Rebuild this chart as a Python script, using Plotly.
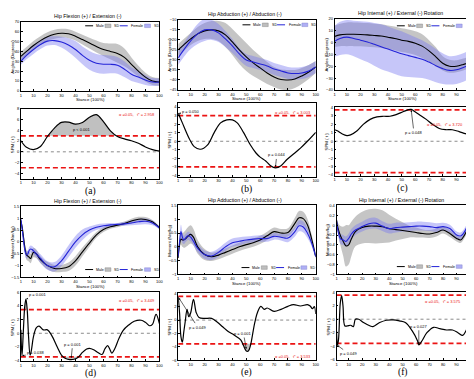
import numpy as np
import plotly.graph_objects as go

W, H = 474, 379

# ------------------------------------------------------------------ data
stance = [1, 5, 10, 15, 20, 25, 30, 35, 40, 45, 50, 55, 60, 65, 70, 75, 80, 85, 90, 95, 100]

# (a) hip flexion/extension angle
a_male = [35, 40, 46, 51, 55, 57.5, 58.5, 58, 55.5, 52, 48.5, 45, 42, 40, 38, 34, 27, 20, 14, 10, 9]
a_male_sd = [5, 4.5, 4.5, 4.5, 4.5, 4.5, 4.5, 4.5, 4.5, 5, 5.5, 6, 6.5, 8, 9.5, 9, 7, 5.5, 4.5, 4, 4]
a_fem = [30, 36, 42, 47, 50.5, 51, 49.5, 46.5, 42, 36, 31, 28, 27, 27, 26, 22, 17, 14, 11, 9, 9]
a_fem_sd = [3.5, 4, 4.5, 4.5, 4.5, 4.5, 5.5, 7, 8.5, 9, 9.5, 9.5, 9.5, 9, 8.5, 8, 7, 6, 5, 4, 3.5]

# (b) hip abduction angle
b_male = [-25, -22.5, -19.5, -17, -15.5, -15, -15.5, -17.5, -21, -25, -28.5, -31.5, -34, -36.5, -38.5, -39.8, -40, -39.5, -38, -36, -33.5]
b_male_sd = [3, 3, 3, 3.5, 4, 4.5, 5, 6, 6.5, 7, 7, 6.5, 6, 5.5, 5, 5, 5, 4.5, 4, 3.5, 3]
b_fem = [-29, -25, -20.5, -17, -15, -15, -16.5, -19.5, -23, -27, -30, -31, -32, -33, -34.5, -35.5, -36.5, -36.8, -36.5, -35.5, -33.5]
b_fem_sd = [3.5, 3.5, 4, 5, 5.5, 5, 4.5, 4, 3.5, 3, 3, 3, 3, 3, 3, 3, 3, 3, 3, 3, 3]

# (c) hip rotation angle
c_male = [5.2, 6.5, 7, 7, 6.8, 6.5, 6, 5.5, 4.5, 3.5, 2, 1, -0.5, -3, -7, -12, -17.5, -20, -20, -18.5, -16.5]
c_male_sd = [9, 9.5, 10, 10, 10, 10, 10, 10, 10, 10, 10, 10, 10, 10, 9, 8, 6, 5.5, 5, 5, 5]
c_fem = [1, 3.5, 4.6, 3.5, 2, 0.5, -1.5, -3.5, -5.5, -7.5, -9.5, -11, -12.5, -14, -16.5, -19.5, -22, -23.5, -23, -21, -18.5]
c_fem_sd = [13, 14, 14.5, 15, 16, 17, 18, 19, 19, 19, 19, 18, 17, 16, 15, 14, 13, 12, 12, 12, 12]

# (d) hip flexion/extension moment
d_x = [1, 2, 3, 4, 5, 6, 7, 8, 9, 10, 12, 15, 20, 25, 30, 35, 40, 45, 50, 55, 60, 65, 70, 75, 80, 85, 90, 95, 100]
d_male = [0.9, 0.6, 0.15, -0.3, -0.55, -0.6, -0.65, -0.7, -0.55, -0.45, -0.5, -0.75, -1.0, -1.12, -1.12, -1.05, -0.8, -0.42, -0.05, 0.3, 0.52, 0.64, 0.7, 0.78, 0.88, 0.96, 0.95, 0.85, 0.6]
d_male_sd = [0.08, 0.1, 0.15, 0.18, 0.2, 0.2, 0.2, 0.2, 0.2, 0.2, 0.18, 0.15, 0.15, 0.15, 0.15, 0.18, 0.2, 0.18, 0.15, 0.12, 0.1, 0.08, 0.08, 0.08, 0.1, 0.1, 0.1, 0.08, 0.06]
d_fem = [0.95, 0.5, 0.0, -0.4, -0.55, -0.5, -0.35, -0.3, -0.32, -0.38, -0.5, -0.7, -1.0, -1.05, -0.8, -0.4, 0.0, 0.3, 0.5, 0.62, 0.68, 0.72, 0.74, 0.76, 0.8, 0.85, 0.87, 0.8, 0.6]
d_fem_sd = [0.08, 0.1, 0.15, 0.18, 0.15, 0.15, 0.15, 0.15, 0.15, 0.15, 0.15, 0.18, 0.18, 0.2, 0.22, 0.25, 0.25, 0.22, 0.15, 0.12, 0.1, 0.08, 0.06, 0.08, 0.1, 0.12, 0.12, 0.1, 0.06]

# (e) hip adduction/abduction moment
e_x = [1, 2, 3, 4, 5, 6, 8, 10, 12, 15, 20, 25, 30, 35, 40, 45, 50, 55, 60, 65, 70, 75, 80, 85, 88, 91, 94, 97, 100]
e_male = [-0.4, 0.1, 0.28, 0.25, 0.25, 0.28, 0.38, 0.45, 0.35, 0.0, -0.28, -0.36, -0.3, -0.2, -0.1, 0.0, 0.08, 0.15, 0.25, 0.4, 0.55, 0.5, 0.52, 0.85, 1.05, 1.02, 0.8, 0.3, -0.35]
e_male_sd = [0.08, 0.15, 0.2, 0.25, 0.28, 0.3, 0.33, 0.33, 0.3, 0.25, 0.2, 0.15, 0.15, 0.15, 0.15, 0.15, 0.15, 0.15, 0.15, 0.15, 0.15, 0.15, 0.15, 0.2, 0.25, 0.25, 0.22, 0.15, 0.08]
e_fem = [-0.35, 0.2, 0.55, 0.35, 0.25, 0.3, 0.4, 0.35, 0.2, -0.05, -0.28, -0.33, -0.2, 0.0, 0.15, 0.2, 0.25, 0.28, 0.3, 0.3, 0.38, 0.35, 0.32, 0.55, 0.76, 0.72, 0.5, 0.15, -0.35]
e_fem_sd = [0.08, 0.15, 0.25, 0.2, 0.15, 0.15, 0.15, 0.15, 0.15, 0.15, 0.15, 0.15, 0.15, 0.15, 0.15, 0.15, 0.12, 0.12, 0.12, 0.12, 0.12, 0.12, 0.15, 0.18, 0.2, 0.2, 0.18, 0.12, 0.08]

# (f) hip rotation moment
f_x = [1, 2, 4, 6, 8, 10, 12, 15, 20, 25, 30, 35, 40, 45, 50, 55, 60, 65, 70, 75, 80, 85, 90, 93, 95, 98, 100]
f_male = [0.1, -0.05, -0.22, -0.33, -0.42, -0.4, -0.28, -0.13, -0.05, -0.02, -0.02, -0.03, -0.07, -0.09, -0.11, -0.13, -0.15, -0.17, -0.18, -0.15, -0.1, -0.17, -0.27, -0.3, -0.24, -0.08, 0.1]
f_male_sd = [0.05, 0.1, 0.2, 0.3, 0.42, 0.4, 0.35, 0.3, 0.32, 0.34, 0.35, 0.33, 0.28, 0.22, 0.17, 0.12, 0.1, 0.08, 0.08, 0.08, 0.07, 0.07, 0.06, 0.06, 0.06, 0.06, 0.05]
f_fem = [0.1, -0.1, -0.28, -0.3, -0.33, -0.27, -0.18, -0.1, -0.03, 0.03, 0.04, -0.02, -0.07, -0.05, -0.04, -0.03, -0.02, -0.02, -0.03, -0.05, -0.03, -0.07, -0.2, -0.22, -0.17, -0.02, 0.12]
f_fem_sd = [0.05, 0.07, 0.1, 0.1, 0.1, 0.1, 0.1, 0.1, 0.1, 0.11, 0.11, 0.1, 0.1, 0.1, 0.09, 0.09, 0.09, 0.09, 0.09, 0.09, 0.08, 0.08, 0.07, 0.07, 0.07, 0.06, 0.05]

# SPM{t} curves
spm_a_x = stance
spm_a = [2.05, 0.85, 0.42, 1.0, 2.85, 4.4, 5.45, 5.5, 5.15, 5.45, 6.4, 6.9, 5.6, 3.9, 2.85, 2.4, 2.05, 1.6, 0.9, 0.4, 0.12]
spm_b_x = [1, 4, 9, 12.5, 17, 22, 27, 31.5, 36, 40, 43.5, 48, 53, 57, 60, 64, 67.5, 71, 75, 79.5, 84, 89, 94, 100]
spm_b = [3.3, 2.15, 0.3, -0.63, -0.93, -0.44, 1.04, 2.15, 2.5, 2.5, 2.15, 1.04, -0.44, -1.37, -1.85, -2.3, -2.85, -3.1, -2.85, -2.1, -1.48, -0.8, 0.0, 1.04]
spm_c_x = [1, 3, 6.7, 10, 12.7, 17.5, 22, 27, 32, 36.7, 41.5, 46, 51, 54.7, 57, 59.5, 63, 68, 72.7, 77.5, 82, 87, 92, 96.6, 100]
spm_c = [1.37, 1.25, 0.87, 0.68, 0.76, 1.25, 2.0, 2.6, 2.9, 2.97, 2.97, 3.16, 3.5, 3.73, 3.78, 3.54, 3.16, 2.6, 2.0, 1.52, 1.37, 1.37, 1.14, 0.9, 0.76]
spm_d_x = [1, 1.8, 2.8, 3.8, 4.6, 5.5, 6.5, 7.6, 8.5, 10, 12, 14, 17, 20, 23, 27, 30, 33, 36, 39, 42, 45, 48, 50, 53, 56, 59, 61, 63, 64.5, 66, 68, 71, 74, 78, 82, 87, 90, 93, 95, 97.6, 100]
spm_d = [0.5, -3.3, 0.5, 4.0, 5.0, 3.5, -0.5, -3.2, -2.5, -0.5, 0.8, 1.05, 0.5, 0.5, -0.3, -2.0, -3.2, -3.7, -3.85, -3.8, -3.5, -2.8, -2.3, -2.2, -2.4, -2.8, -3.1, -2.3, -1.8, -2.3, -2.9, -2.3, -0.8, 0.4, 1.2, 1.75, 1.9, 1.6, 1.1, 1.3, 2.77, 1.4]
spm_e_x = [1, 2, 3, 4, 5, 6, 7.4, 8.6, 10, 12, 14, 16, 20, 25, 29, 33, 37, 41, 46, 48, 50, 51.5, 53, 54.5, 56, 58, 60.5, 63, 65, 70, 75, 80, 84, 89, 94, 96, 97.6, 99, 100]
spm_e = [3.5, 1.0, -2.5, -3.3, -1.8, -0.3, 1.6, 0.5, 1.1, 3.1, 1.1, 0.4, 0.25, 0.25, -0.3, -1.0, -1.7, -2.2, -2.95, -3.8, -4.6, -4.6, -3.8, -2.2, -0.5, 1.1, 2.05, 1.6, 1.8, 1.3, 1.6, 2.05, 2.3, 2.1, 2.3, 2.1, 1.7, 2.0, 0.9]
spm_f_x = [1, 1.7, 2.5, 3.8, 4.8, 5.8, 7.2, 9, 11.5, 13.5, 15, 17.5, 21, 26, 28, 33, 38, 43, 47.6, 52, 57, 61, 62, 64.4, 68, 73, 77.6, 82.5, 87, 91, 94.5, 97, 99, 100]
spm_f = [-1.7, -3.9, -3.0, 2.4, 3.5, 2.0, -1.0, -1.0, -0.9, -1.1, 0.0, 0.0, -0.5, -1.0, -1.1, -0.5, -0.15, -0.1, -0.25, -0.5, -1.7, -3.2, -3.8, -3.2, -2.0, -1.2, -1.4, -1.6, -1.6, -2.0, -2.4, -1.7, -0.5, -0.25]

t_crit = {'a': 2.958, 'b': 3.003, 'c': 3.720, 'd': 3.449, 'e': 3.533, 'f': 3.575}

x_ticks = [1, 10, 20, 30, 40, 50, 60, 70, 80, 90, 100]
x_tick_text = ['1', '10', '20', '30', '40', '50', '60', '70', '80', '90', '100']

titles = {
    'a': 'Hip Flexion (+) / Extension (-)',
    'b': 'Hip Abduction (+) / Abduction (-)',
    'c': 'Hip Internal (+) / External (-) Rotation',
    'd': 'Hip Flexion (+) / Extension (-)',
    'e': 'Hip Adduction (+) / Abduction (-)',
    'f': 'Hip Internal (+) / External (-) Rotation',
}

# ------------------------------------------------------------------ layout helpers
FONT = 'Liberation Sans'
boxes = {
    'a_top': (12, 11, 152, 81), 'a_spm': (12, 99, 152, 170),
    'b_top': (171, 9, 310, 80), 'b_spm': (171, 93, 310, 168),
    'c_top': (329, 8, 466, 80), 'c_spm': (329, 97, 466, 167),
    'd_top': (12, 198, 152, 270), 'd_spm': (12, 285, 152, 355),
    'e_top': (171, 197, 310, 267), 'e_spm': (171, 286, 310, 354),
    'f_top': (331, 197, 466, 267), 'f_spm': (331, 285, 466, 354),
}
order = ['a_top', 'a_spm', 'b_top', 'b_spm', 'c_top', 'c_spm',
         'd_top', 'd_spm', 'e_top', 'e_spm', 'f_top', 'f_spm']

MALE_LINE = 'black'
FEM_LINE = 'rgb(35,35,215)'
MALE_FILL = 'rgba(140,140,140,0.5)'
FEM_FILL = 'rgba(120,120,240,0.42)'
LEG_MALE_BOX = 'rgb(190,190,190)'
LEG_FEM_BOX = 'rgb(175,175,245)'

fig = go.Figure()
annotations = []
shapes = []


def px_x(p):
    return p / W


def px_y(p):
    return 1 - p / H


def setup_axis(key, yrange, dtick):
    i = order.index(key) + 1
    l, t, r, b = boxes[key]
    xa = 'xaxis' if i == 1 else f'xaxis{i}'
    ya = 'yaxis' if i == 1 else f'yaxis{i}'
    xr = 'x' if i == 1 else f'x{i}'
    yr = 'y' if i == 1 else f'y{i}'
    common = dict(showline=True, mirror=True, linecolor='black', linewidth=0.7,
                  ticks='inside', ticklen=2, tickwidth=0.5, tickcolor='black',
                  showgrid=False, zeroline=False,
                  tickfont=dict(size=4, color='black', family=FONT), fixedrange=True)
    fig.update_layout({
        xa: dict(domain=[l / W, r / W], range=[1, 100], tickvals=x_ticks,
                 ticktext=x_tick_text, anchor=yr, **common),
        ya: dict(domain=[1 - b / H, 1 - t / H], range=yrange, dtick=dtick,
                 anchor=xr, **common),
    })
    return xr, yr


def text_px(x, y, text, size=4, color='black', xanchor='center', angle=0,
            family=FONT):
    annotations.append(dict(x=px_x(x), y=px_y(y), xref='paper', yref='paper',
                            text=text, showarrow=False, xanchor=xanchor,
                            yanchor='middle', textangle=angle,
                            font=dict(size=size, color=color, family=family)))


def legend(x0, y):
    shapes.append(dict(type='line', xref='paper', yref='paper', x0=px_x(x0), x1=px_x(x0 + 8),
                       y0=px_y(y), y1=px_y(y), line=dict(color=MALE_LINE, width=1)))
    text_px(x0 + 9, y, 'Male', size=3.6, xanchor='left')
    shapes.append(dict(type='rect', xref='paper', yref='paper', x0=px_x(x0 + 20), x1=px_x(x0 + 26),
                       y0=px_y(y + 1.8), y1=px_y(y - 1.8), fillcolor=LEG_MALE_BOX,
                       line=dict(color='rgb(120,120,120)', width=0.4)))
    text_px(x0 + 27.5, y, 'SD', size=3.6, xanchor='left')
    shapes.append(dict(type='line', xref='paper', yref='paper', x0=px_x(x0 + 35), x1=px_x(x0 + 43),
                       y0=px_y(y), y1=px_y(y), line=dict(color=FEM_LINE, width=1)))
    text_px(x0 + 44.5, y, 'Female', size=3.6, xanchor='left')
    shapes.append(dict(type='rect', xref='paper', yref='paper', x0=px_x(x0 + 60), x1=px_x(x0 + 66),
                       y0=px_y(y + 1.8), y1=px_y(y - 1.8), fillcolor=LEG_FEM_BOX,
                       line=dict(color='rgb(120,120,200)', width=0.4)))
    text_px(x0 + 67.5, y, 'SD', size=3.6, xanchor='left')


def band(xr, yr, x, m, sd, fill):
    m = np.array(m, dtype=float)
    sd = np.array(sd, dtype=float)
    fig.add_trace(go.Scatter(x=x, y=m + sd, mode='lines', line=dict(width=0, shape='spline'),
                             xaxis=xr, yaxis=yr, showlegend=False, hoverinfo='skip'))
    fig.add_trace(go.Scatter(x=x, y=m - sd, mode='lines', line=dict(width=0, shape='spline'),
                             fill='tonexty', fillcolor=fill,
                             xaxis=xr, yaxis=yr, showlegend=False, hoverinfo='skip'))


def top_panel(p, x, male, male_sd, fem, fem_sd, yrange, dtick, ylabel, leg):
    key = p + '_top'
    xr, yr = setup_axis(key, yrange, dtick)
    band(xr, yr, x, male, male_sd, MALE_FILL)
    band(xr, yr, x, fem, fem_sd, FEM_FILL)
    fig.add_trace(go.Scatter(x=x, y=male, mode='lines', line=dict(color=MALE_LINE, width=1.1, shape='spline'),
                             xaxis=xr, yaxis=yr, showlegend=False))
    fig.add_trace(go.Scatter(x=x, y=fem, mode='lines', line=dict(color=FEM_LINE, width=1.1, shape='spline'),
                             xaxis=xr, yaxis=yr, showlegend=False))
    l, t, r, b = boxes[key]
    text_px((l + r) / 2 - 2, t - 5.5, titles[p], size=5.2)
    text_px((l + r) / 2, b + 9, 'Stance (100%)', size=4.3)
    text_px(l - 8.5, (t + b) / 2, ylabel, size=4.3, angle=-90)
    legend(*leg)


def spm_panel(p, x, t, yrange, dtick, crit_pos, notes):
    key = p + '_spm'
    xr, yr = setup_axis(key, yrange, dtick)
    thr = t_crit[p]
    t = np.array(t, dtype=float)
    n = len(x)
    fig.add_trace(go.Scatter(x=x, y=[thr] * n, mode='lines', line=dict(width=0),
                             xaxis=xr, yaxis=yr, showlegend=False, hoverinfo='skip'))
    fig.add_trace(go.Scatter(x=x, y=np.maximum(t, thr), mode='lines', line=dict(width=0, shape='spline'),
                             fill='tonexty', fillcolor='rgba(185,185,185,0.9)',
                             xaxis=xr, yaxis=yr, showlegend=False, hoverinfo='skip'))
    fig.add_trace(go.Scatter(x=x, y=[-thr] * n, mode='lines', line=dict(width=0),
                             xaxis=xr, yaxis=yr, showlegend=False, hoverinfo='skip'))
    fig.add_trace(go.Scatter(x=x, y=np.minimum(t, -thr), mode='lines', line=dict(width=0, shape='spline'),
                             fill='tonexty', fillcolor='rgba(185,185,185,0.9)',
                             xaxis=xr, yaxis=yr, showlegend=False, hoverinfo='skip'))
    fig.add_trace(go.Scatter(x=[1, 100], y=[0, 0], mode='lines',
                             line=dict(color='rgb(60,60,60)', width=0.6, dash='dot'),
                             xaxis=xr, yaxis=yr, showlegend=False, hoverinfo='skip'))
    for s in (1, -1):
        fig.add_trace(go.Scatter(x=[1, 100], y=[s * thr, s * thr], mode='lines',
                                 line=dict(color='rgb(235,20,20)', width=1.7, dash='5px,3px'),
                                 xaxis=xr, yaxis=yr, showlegend=False, hoverinfo='skip'))
    fig.add_trace(go.Scatter(x=x, y=t, mode='lines', line=dict(color='black', width=1.2, shape='spline'),
                             xaxis=xr, yaxis=yr, showlegend=False))
    cx, cy = crit_pos
    annotations.append(dict(x=cx, y=cy, xref=xr, yref=yr, showarrow=False, xanchor='right',
                            text=f'\u03b1 =0.05,   t* = {thr:.3f}',
                            font=dict(size=4, color='rgb(235,20,20)', family=FONT)))
    for (txt, tx, ty, ax, ay) in notes:
        if ax is None:
            annotations.append(dict(x=tx, y=ty, xref=xr, yref=yr, showarrow=False, text=txt,
                                    font=dict(size=4, color='black', family=FONT)))
        else:
            annotations.append(dict(x=ax, y=ay, xref=xr, yref=yr, ax=tx, ay=ty, axref=xr, ayref=yr,
                                    showarrow=True, arrowhead=2, arrowsize=0.6, arrowwidth=0.6,
                                    arrowcolor='black', text=txt, standoff=0,
                                    font=dict(size=4, color='black', family=FONT)))
    l, tp, r, b = boxes[key]
    text_px(l - 8.5, (tp + b) / 2, 'SPM { t }', size=4.3, angle=-90)
    text_px((l + r) / 2, b + 12.5, f'({p})', size=9.5, family='Liberation Serif')


# ------------------------------------------------------------------ panels
top_panel('a', stance, a_male, a_male_sd, a_fem, a_fem_sd, [0, 70], 10, 'Angles (Degrees)', (77, 15))
top_panel('b', stance, b_male, b_male_sd, b_fem, b_fem_sd, [-45, -10], 5, 'Angles (Degrees)', (236, 14))
top_panel('c', stance, c_male, c_male_sd, c_fem, c_fem_sd, [-40, 20], 10, 'Angles (Degrees)', (392, 15))
top_panel('d', d_x, d_male, d_male_sd, d_fem, d_fem_sd, [-1.5, 1.5], 0.5, 'Moment (Nm/kg)', (77, 262))
top_panel('e', e_x, e_male, e_male_sd, e_fem, e_fem_sd, [-1, 1.5], 0.5, 'Moment (Nm/kg)', (235, 260))
top_panel('f', f_x, f_male, f_male_sd, f_fem, f_fem_sd, [-1, 0.4], 0.2, 'Moment (Nm/kg)', (392, 259))

spm_panel('a', spm_a_x, spm_a, [-5, 8], 2, (98, 7.0),
          [('p < 0.001', 45, 4.1, None, None)])
spm_panel('b', spm_b_x, spm_b, [-4.15, 4.5], 1, (98, 3.4),
          [('p = 0.050', 10, 3.5, 1.5, 3.25), ('p = 0.044', 72, -1.6, 71, -3.0)])
spm_panel('c', spm_c_x, spm_c, [-4.1, 4.1], 1, (96, 2.0),
          [('p = 0.048', 59, 1.05, 57, 3.7)])
spm_panel('d', spm_d_x, spm_d, [-4.1, 6], 2, (98, 4.75),
          [('p = 0.001', 13, 5.6, 4.8, 5.0), ('p = 0.038', 12, -2.85, 2, -3.3),
           ('p = 0.001', 38, -1.6, 37, -3.6)])
spm_panel('e', spm_e_x, spm_e, [-6, 4], 2, (98, -5.5),
          [('p = 0.049', 15, -1.05, 1.5, 3.3), ('p = 0.001', 48, -2.0, 50, -4.3)])
spm_panel('f', spm_f_x, spm_f, [-6.1, 4], 2, (95, 2.7),
          [('p = 0.049', 10, -5.1, 1.8, -3.9), ('p = 0.027', 62, -1.05, 62, -3.7)])

fig.update_layout(width=W, height=H, margin=dict(l=0, r=0, t=0, b=0),
                  paper_bgcolor='white', plot_bgcolor='white', showlegend=False,
                  annotations=annotations, shapes=shapes,
                  font=dict(family=FONT, size=4, color='black'))

fig.write_html('out.html')
